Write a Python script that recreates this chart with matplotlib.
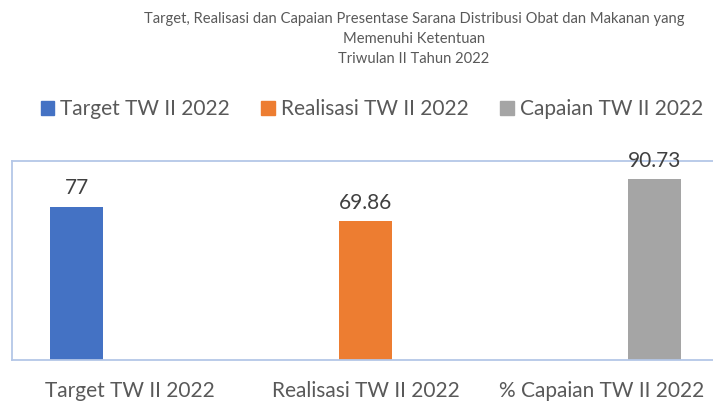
import numpy as np
import matplotlib.pyplot as plt
from matplotlib.patches import Patch

plt.rcParams['font.family'] = ['Lato', 'DejaVu Sans']

categories = ["Target TW II 2022", "Realisasi TW II 2022", "% Capaian TW II 2022"]
series_names = ["Target TW II 2022", "Realisasi TW II 2022", "Capaian TW II 2022"]
target = [77, 0, 0]
realisasi = [0, 69.86, 0]
capaian = [0, 0, 90.73]
colors = ["#4472C4", "#ED7D31", "#A5A5A5"]
title = ("Target, Realisasi dan Capaian Presentase Sarana Distribusi Obat dan Makanan yang\n"
         "Memenuhi Ketentuan\nTriwulan II Tahun 2022")

fig = plt.figure(figsize=(7.13, 4.01), dpi=100)
ax = fig.add_axes([12 / 713, 1 - 360 / 401, 707 / 713, 199 / 401])

x = np.arange(len(categories))
w = 0.225
for i, (vals, c) in enumerate(zip([target, realisasi, capaian], colors)):
    pos = x + (i - 1) * w
    bars = ax.bar(pos, vals, width=w, color=c)
    labs = ["" if v == 0 else f"{v:g}" for v in vals]
    ax.bar_label(bars, labels=labs, padding=6, fontsize=15, color="#404040")

ax.set_xlim(-0.5, 2.5)
ax.set_ylim(0, 100)
ax.set_yticks([])
ax.set_xticks(x)
ax.set_xticklabels(categories, fontsize=15, color="#595959")
ax.tick_params(axis="x", length=0, pad=15)
for s in ["left", "top", "bottom"]:
    ax.spines[s].set_color("#B4C7E7")
    ax.spines[s].set_linewidth(1.3)
ax.spines["right"].set_visible(False)

fig.text(414 / 713, 1 - 12 / 401, title, ha="center", va="top", fontsize=10.6,
         color="#595959", linespacing=1.55)

handles = [Patch(color=c) for c in colors]
fig.legend(handles, series_names, loc="center", bbox_to_anchor=(372 / 713, 1 - 109 / 401),
           ncol=3, frameon=False, fontsize=15, handlelength=0.65, handleheight=0.65,
           handletextpad=0.3, columnspacing=1.5, labelcolor="#595959")

fig.savefig("out.png", dpi=100)
